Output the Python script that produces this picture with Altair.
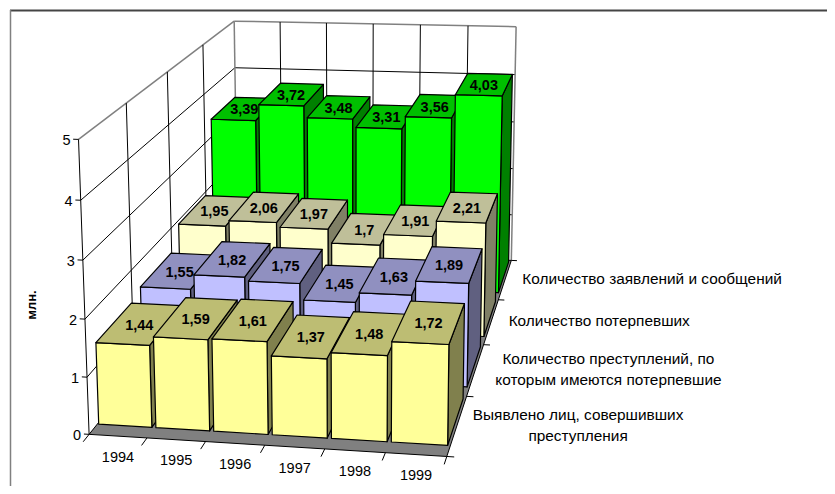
import altair as alt
import numpy as np

years = ["1994", "1995", "1996", "1997", "1998", "1999"]
series_names = [
    ["Выявлено лиц, совершивших", "преступления"],
    ["Количество преступлений, по", "которым имеются потерпевшие"],
    ["Количество потерпевших"],
    ["Количество заявлений и сообщений"],
]
persons = [1.44, 1.59, 1.61, 1.37, 1.48, 1.72]
crimes = [1.55, 1.82, 1.75, 1.45, 1.63, 1.89]
victims = [1.95, 2.06, 1.97, 1.70, 1.91, 2.21]
reports = [3.39, 3.72, 3.48, 3.31, 3.56, 4.03]
rows = [persons, crimes, victims, reports]
z_ticks = [0, 1, 2, 3, 4, 5]

face_colors = [
    ("#FFFF99", "#BDBD73", "#80804D"),
    ("#C0C0FF", "#9090C0", "#606080"),
    ("#FFFFCC", "#BFBF99", "#808066"),
    ("#00FF00", "#00BF00", "#008000"),
]
series_label_dx = [121, 133, 108, 147]

# camera calibration: 3D chart box corners (category, row, value) -> page pixel
box = [(0, 0, 0), (6, 0, 0), (6, 4, 0), (0, 4, 0), (0, 0, 5), (0, 4, 5), (6, 4, 5), (0, 0, 1), (0, 0, 2),
       (0, 0, 3), (0, 0, 4), (6, 4, 1), (6, 4, 2), (6, 4, 3), (6, 4, 4)]
page = [(88, 434), (447, 458), (511, 258), (239, 251), (79, 141), (233, 20), (517, 27), (87, 377), (85, 318),
        (83, 259), (81, 200), (512, 215), (513, 168), (514, 123), (515, 75)]
A, b = [], []
for (X, Y, Z), (u, v) in zip(box, page):
    A.append([X, Y, Z, 1, 0, 0, 0, 0, -u * X, -u * Y, -u * Z])
    A.append([0, 0, 0, 0, X, Y, Z, 1, -v * X, -v * Y, -v * Z])
    b += [u, v]
m = np.append(np.linalg.lstsq(np.array(A, float), np.array(b, float), rcond=None)[0], 1).reshape(3, 4)


def P(X, Y, Z):
    h = m @ np.array([X, Y, Z, 1.0])
    # page margin of 8 px
    return [float(h[0] / h[2]) - 8, float(h[1] / h[2]) - 8]


def poly(pts, fill, stroke, sw=1.0):
    ring = pts + [pts[0]]
    return {"type": "Feature", "geometry": {"type": "Polygon", "coordinates": [ring]},
            "properties": {"fill": fill, "stroke": stroke, "sw": sw}}


def seg(a, b, stroke, sw=1.0):
    return {"type": "Feature", "geometry": {"type": "LineString", "coordinates": [a, b]},
            "properties": {"stroke": stroke, "sw": sw}}


GRID = "#000000"
EDGE = "#808080"
lines = []
for z in z_ticks[1:]:
    lines.append(seg(P(0, 0, z), P(0, 4, z), EDGE if z == 5 else GRID, 1.5 if z == 5 else 1))
    lines.append(seg(P(0, 4, z), P(6, 4, z), EDGE if z == 5 else GRID, 1.5 if z == 5 else 1))
for y in range(1, 4):
    lines.append(seg(P(0, y, 0), P(0, y, 5), GRID))
for x in range(1, 6):
    lines.append(seg(P(x, 4, 0), P(x, 4, 5), GRID))
lines.append(seg(P(0, 0, 0), P(0, 0, 5), GRID))
lines.append(seg(P(0, 4, 0), P(0, 4, 5), EDGE, 1.5))
lines.append(seg(P(6, 4, 0), P(6, 4, 5), EDGE, 1.5))
ticks = []
for x in range(7):
    ticks.append(seg(P(x, 0, 0), P(x, -0.12, 0), GRID))
for y in range(5):
    ticks.append(seg(P(6, y, 0), P(6.12, y, 0), GRID))
for z in z_ticks:
    ticks.append(seg(P(0, 0, z), P(-0.09, 0, z), GRID))
# picture frame
frame = [seg([2, 2.6], [819, 2.6], "#444444", 2), seg([2.5, 2], [2.5, 478], "#808080", 1.5)]

floor = [poly([P(0, 0, 0), P(6, 0, 0), P(6, 4, 0), P(0, 4, 0)], "#808080", "#000000")]

X0, X1 = 0.025, 0.955
Y0, Y1 = 0.17, 0.95
bars = []
labels = []
for j in reversed(range(4)):
    front, top, side = face_colors[j]
    for i, v in enumerate(rows[j]):
        x0, x1, y0, y1 = i + X0, i + X1, j + Y0, j + Y1
        bars.append(poly([P(x1, y0, 0), P(x1, y1, 0), P(x1, y1, v), P(x1, y0, v)], side, "#000000", 1.2))
        bars.append(poly([P(x0, y0, 0), P(x1, y0, 0), P(x1, y0, v), P(x0, y0, v)], front, "#000000", 1.2))
        bars.append(poly([P(x0, y0, v), P(x1, y0, v), P(x1, y1, v), P(x0, y1, v)], top, "#000000", 1.2))
        lon, lat = P(i + 0.5, j + 0.55, v)
        labels.append({"lon": lon - 1, "lat": lat + 1.5, "text": f"{v:.2f}".rstrip("0").replace(".", ",")})

axis_text = []
for i, yr in enumerate(years):
    lon, lat = P(i + 0.5, 0, 0)
    axis_text.append({"lon": lon, "lat": lat + 21.5, "text": yr})
z_text = []
for z in z_ticks:
    lon, lat = P(0, 0, z)
    z_text.append({"lon": lon - 8, "lat": lat + 1.5, "text": str(z)})
series_text = []
for j, name in enumerate(series_names):
    lon, lat = P(6, j + 0.5, 0)
    for k, line in enumerate(name):
        series_text.append({"lon": lon + series_label_dx[j], "lat": lat + (k - (len(name) - 1) / 2) * 21, "text": line})

FONT = "Liberation Sans"
PROJ = dict(type="identity", scale=1, translate=[0, 0])


def shapes(features, filled):
    enc = dict(stroke=alt.Stroke("properties.stroke:N", scale=None),
               strokeWidth=alt.StrokeWidth("properties.sw:Q", scale=None))
    if filled:
        enc["fill"] = alt.Fill("properties.fill:N", scale=None)
        mk = alt.Chart(alt.Data(values=features)).mark_geoshape(strokeJoin="round")
    else:
        mk = alt.Chart(alt.Data(values=features)).mark_geoshape(filled=False)
    return mk.encode(**enc).project(**PROJ)


def texts(values, **kw):
    return alt.Chart(alt.Data(values=values)).mark_text(font=FONT, color="#000000", **kw).encode(
        longitude="lon:Q", latitude="lat:Q", text="text:N").project(**PROJ)


chart = alt.layer(
    shapes(frame, False),
    shapes(lines, False),
    shapes(floor, True),
    shapes(ticks, False),
    shapes(bars, True),
    texts(labels, fontSize=14.5, fontWeight="bold", align="center", baseline="middle"),
    texts(axis_text, fontSize=14.5, align="center", baseline="middle"),
    texts(z_text, fontSize=14.5, align="right", baseline="middle"),
    texts(series_text, fontSize=15.4, align="center", baseline="middle"),
    texts([{"lon": 24, "lat": 297, "text": "млн."}], fontSize=13, fontWeight="bold", angle=270, align="center",
          baseline="middle"),
).properties(width=819, height=478, padding=0, background="white",
             autosize=alt.AutoSizeParams(type="none")).configure_view(stroke=None)

chart.save("out.html", embed_options={"renderer": "svg", "actions": False})
